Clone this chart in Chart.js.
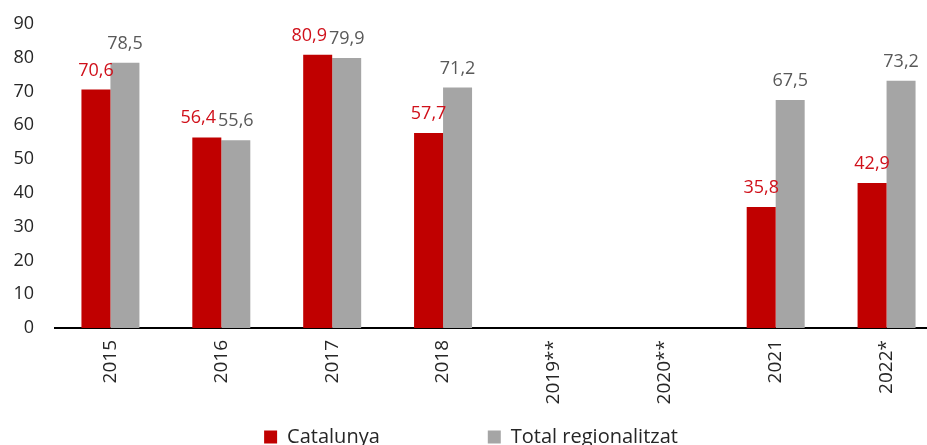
<!DOCTYPE html>
<html>
<head>
<meta charset="utf-8">
<script src="https://cdn.jsdelivr.net/npm/chart.js@4/dist/chart.umd.min.js"></script>
<style>
  html, body { margin: 0; padding: 0; overflow: hidden; background: #ffffff; }
  canvas { display: block; }
</style>
</head>
<body>
<canvas id="c" width="942" height="556"></canvas>
<script>
const categories = ['2015', '2016', '2017', '2018', '2019**', '2020**', '2021', '2022*'];
const catalunya = [70.6, 56.4, 80.9, 57.7, null, null, 35.8, 42.9];
const totalRegionalitzat = [78.5, 55.6, 79.9, 71.2, null, null, 67.5, 73.2];
const yTicks = [0, 10, 20, 30, 40, 50, 60, 70, 80, 90];
const seriesNames = ['Catalunya', 'Total regionalitzat'];

const FONT = "'Open Sans', 'Liberation Sans', sans-serif";
const RED = '#c00000';
const GREY = '#a5a5a5';
const LABEL_COLORS = ['#d0101a', '#595959'];
const LEGEND_PAD = 108;
const LEGEND_CENTER_Y = 439;

const fmt = v => v.toFixed(1).replace('.', ',');

const labelPlugin = {
  id: 'barLabels',
  afterDatasetsDraw(chart) {
    const ctx = chart.ctx;
    ctx.save();
    ctx.font = '18px ' + FONT;
    ctx.textAlign = 'left';
    ctx.textBaseline = 'alphabetic';
    const m0 = chart.getDatasetMeta(0), m1 = chart.getDatasetMeta(1);
    const d0 = chart.data.datasets[0].data, d1 = chart.data.datasets[1].data;
    for (let i = 0; i < categories.length; i++) {
      const items = [];
      [[m0, d0, 0], [m1, d1, 1]].forEach(([m, d, k]) => {
        const v = d[i];
        if (v === null || v === undefined) return;
        const el = m.data[i];
        const t = fmt(v);
        const w = ctx.measureText(t).width;
        items.push({k, t, w, x: el.x - w / 2, y: el.y - 14});
      });
      if (items.length === 2) {
        const a = items[0], b = items[1];
        const overlapV = Math.abs(a.y - b.y) < 16;
        if (overlapV && a.x + a.w > b.x - 2) {
          a.x = b.x - 2 - a.w;
        }
      }
      items.forEach(it => {
        ctx.fillStyle = LABEL_COLORS[it.k];
        ctx.fillText(it.t, it.x, it.y);
      });
    }
    ctx.restore();
  }
};

const legendPlace = {
  id: 'legendPlace',
  afterLayout(chart) {
    const lg = chart.legend;
    if (!lg) return;
    const h = lg.height;
    lg.top = LEGEND_CENTER_Y - 12 - LEGEND_PAD;
    lg.bottom = lg.top + h;
  }
};

new Chart(document.getElementById('c'), {
  type: 'bar',
  data: {
    labels: categories,
    datasets: [
      { label: seriesNames[0], data: catalunya, backgroundColor: RED, barPercentage: 1, categoryPercentage: 0.523 },
      { label: seriesNames[1], data: totalRegionalitzat, backgroundColor: GREY, barPercentage: 1, categoryPercentage: 0.523 }
    ]
  },
  options: {
    responsive: false,
    devicePixelRatio: 1,
    animation: false,
    layout: { padding: { top: 24, left: 0, right: 0, bottom: 0 } },
    plugins: {
      tooltip: { enabled: false },
      legend: {
        position: 'bottom',
        labels: {
          font: { family: FONT, size: 20 },
          color: '#262626',
          boxWidth: 13,
          boxHeight: 13,
          padding: LEGEND_PAD
        }
      }
    },
    scales: {
      x: {
        grid: { display: false, drawTicks: false },
        border: { display: true, color: '#000000', width: 2 },
        ticks: {
          font: { family: FONT, size: 19 },
          color: '#262626',
          minRotation: 90,
          maxRotation: 90,
          padding: 12,
          autoSkip: false
        },
        afterFit(scale) { scale.height = 90; }
      },
      y: {
        min: 0,
        max: 90,
        afterBuildTicks(scale) { scale.ticks = yTicks.map(v => ({ value: v })); },
        grid: { display: false, drawTicks: false },
        border: { display: false },
        ticks: {
          font: { family: FONT, size: 18 },
          color: '#262626',
          padding: 21
        },
        afterFit(scale) {
          scale.width = 55;
          scale.paddingTop = 0;
          scale.paddingBottom = 0;
        }
      }
    }
  },
  plugins: [labelPlugin, legendPlace]
});
</script>
</body>
</html>
